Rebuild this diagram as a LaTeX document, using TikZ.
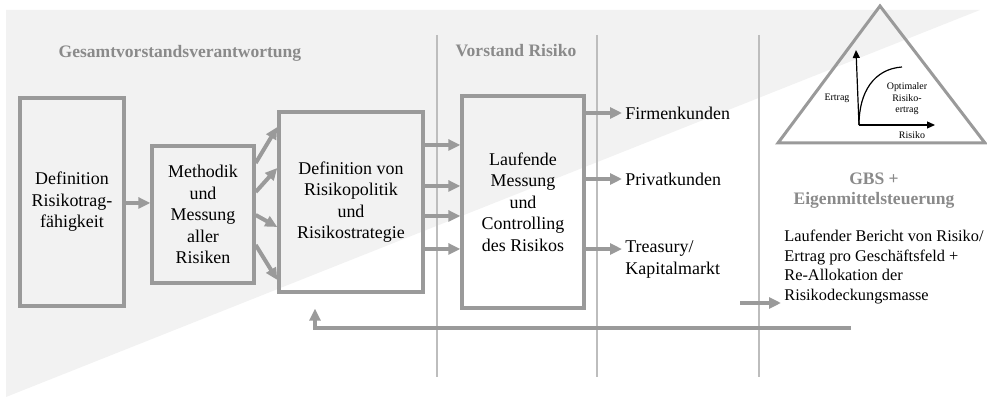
\documentclass[tikz,border=0pt]{standalone}
\usepackage{fontspec}
\setmainfont{Liberation Serif}
\usetikzlibrary{arrows.meta}

\definecolor{linegray}{HTML}{9A9A9A}
\definecolor{sepgray}{HTML}{BDBDBD}
\definecolor{bggray}{HTML}{F2F2F2}
\definecolor{labelgray}{HTML}{8A8A8A}

\begin{document}
\begin{tikzpicture}[
    x=0.5bp, y=-0.5bp,
    box/.style={draw=linegray, line width=1.7bp, align=center, inner sep=0pt,
      font=\fontsize{9}{10.75}\selectfont},
    arr/.style={-{Triangle[length=6bp,width=5.5bp]}, line width=2bp, linegray},
    sep/.style={sepgray, line width=1bp},
    head/.style={font=\fontsize{8.8}{10}\selectfont\bfseries, text=labelgray},
    lbl/.style={font=\fontsize{9}{10.75}\selectfont, inner sep=1.5bp},
    tiny/.style={font=\fontsize{5}{5.75}\selectfont, align=center, inner sep=0pt},
    axis/.style={-{Triangle[length=4bp,width=3.5bp]}, line width=0.6bp, black},
  ]
    \useasboundingbox (0,0) rectangle (987,397);
    % --- Background wedge and column rules ---
    \fill[bggray] (6,10) -- (980,10) -- (6,397) -- cycle;
    \foreach \x in {437,597,759}
      \draw[sep] (\x,35) -- (\x,377);

    % --- Column headings ---
    \node[head, anchor=base] (hgesamt) at (180,58) {Gesamtvorstandsverantwortung};
    \node[head, anchor=base] (hrisiko) at (516,57) {Vorstand Risiko};
    \node[head, align=center] (hgbs) at (874,191) {GBS +\\Eigenmittelsteuerung};

    % --- Process boxes ---
    \node[box, minimum width=52bp, minimum height=104bp] (tragf) at (72,202)
      {Definition\\Risikotrag-\\fähigkeit};
    \node[box, minimum width=51bp, minimum height=68.5bp] (messung) at (203,214.5)
      {Methodik\\und\\Messung\\aller\\Risiken};
    \node[box, minimum width=72bp, minimum height=90bp] (politik) at (351,202)
      {Definition von\\Risikopolitik\\und\\Risikostrategie};
    \node[box, minimum width=61bp, minimum height=106bp] (control) at (523,202)
      {Laufende\\Messung\\und\\Controlling\\des Risikos};

    \draw[arr] (tragf.east |- 0,203) -- (messung.west |- 0,203);
    \foreach \a/\b in {163/127, 192/168, 215/227, 245/280}
      \draw[arr] (messung.east |- 0,\a) -- (politik.west |- 0,\b);
    \foreach \y in {145,186,216,249}
      \draw[arr] (politik.east |- 0,\y) -- (control.west |- 0,\y);

    % --- Business segments ---
    \node[lbl, anchor=west] (firmen) at (622,113) {Firmenkunden};
    \node[lbl, anchor=west] (privat) at (622,179) {Privatkunden};
    \node[lbl, anchor=base west] (treasury) at (622,253) {Treasury/};
    \node[lbl, anchor=base west] (kapital) at (622,275) {Kapitalmarkt};
    \draw[arr] (control.east |- firmen.west) -- (firmen.west);
    \draw[arr] (control.east |- privat.west) -- (privat.west);
    \draw[arr] (control.east |- treasury.west) -- (treasury.west);

    % --- Reporting and feedback loop ---
    \node[lbl, font=\fontsize{8.2}{9.75}\selectfont, align=left, anchor=west] (bericht)
      at (781,267) {Laufender Bericht von Risiko/\\Ertrag pro Geschäftsfeld +\\
      Re-Allokation der\\Risikodeckungsmasse};
    \coordinate (gbsin) at (740,303);
    \draw[arr] (gbsin) -- (gbsin -| bericht.west);
    \coordinate (fb) at (851,328);
    \draw[arr] (fb) -| ([xshift=-18bp,yshift=-7.5bp]politik.south);

    % --- Risk/return triangle ---
    \draw[linegray, line width=1.5bp] (880,6) -- (985,143) -- (778,143) -- cycle;
    \coordinate (org) at (859,125);
    \coordinate (ytip) at (856,50);
    \coordinate (xtip) at (935,125);
    \draw[axis] (org) -- (ytip);
    \draw[axis] (org) -- (xtip);
    \draw[line width=0.6bp] (org) .. controls (859,92) and (874,69) .. (902,67);
    \node[tiny] (ertrag) at (837,98) {Ertrag};
    \node[tiny] (optimal) at (907,99) {Optimaler\\Risiko-\\ertrag};
    \node[tiny] (risiko) at (912,135) {Risiko};
  \end{tikzpicture}
\end{document}
